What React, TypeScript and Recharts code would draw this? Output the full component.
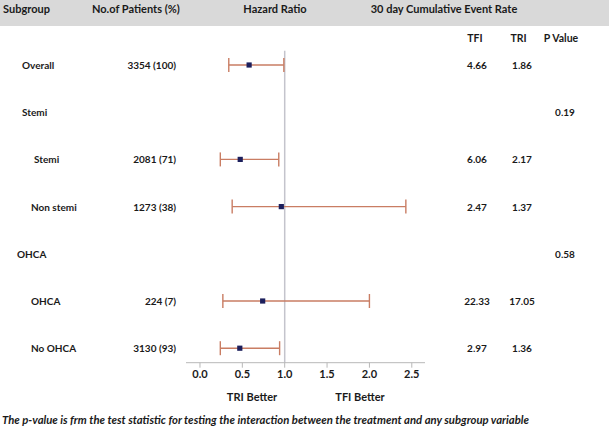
import React from "react";
import {
  ScatterChart,
  Scatter,
  XAxis,
  YAxis,
  ErrorBar,
  ReferenceLine,
} from "recharts";

const subgroups = ["Overall", "Stemi", "Stemi", "Non stemi", "OHCA", "OHCA", "No OHCA"];
const indents = [22, 22, 34, 31, 17, 31, 31];
const patients = ["3354 (100)", "", "2081 (71)", "1273 (38)", "", "224 (7)", "3130 (93)"];
const tfiRates = ["4.66", "", "6.06", "2.47", "", "22.33", "2.97"];
const triRates = ["1.86", "", "2.17", "1.37", "", "17.05", "1.36"];
const pValues = ["", "0.19", "", "", "0.58", "", ""];
const hazard = [0.58, null, 0.475, 0.96, null, 0.74, 0.47];
const ciLow = [0.34, null, 0.24, 0.38, null, 0.27, 0.24];
const ciHigh = [0.99, null, 0.93, 2.43, null, 2.0, 0.94];
const xTicks = [0, 0.5, 1, 1.5, 2, 2.5];
const rowTicks = subgroups.map((_, i) => i);

const FONT = "Lato, 'Open Sans', sans-serif";
const INK = "#1a1a1a";

const pointData = hazard
  .map((hr, i) =>
    hr === null
      ? null
      : {
          row: i,
          x: hr,
          err: [hr - (ciLow[i] as number), (ciHigh[i] as number) - hr],
        }
  )
  .filter(Boolean) as { row: number; x: number; err: number[] }[];

const RowTick = (props: any) => {
  const { y, payload } = props;
  const i = Math.round(payload?.value);
  if (y == null || i < 0 || i >= subgroups.length) return null;
  const common = {
    fontFamily: FONT,
    fontSize: 10,
    fontWeight: 700,
    fill: INK,
    dominantBaseline: "central" as const,
  };
  return (
    <g>
      <text x={indents[i]} y={y} {...common}>
        {subgroups[i]}
      </text>
      {patients[i] && (
        <text x={176} y={y} textAnchor="end" {...common}>
          {patients[i]}
        </text>
      )}
      {tfiRates[i] && (
        <text x={477} y={y} textAnchor="middle" {...common}>
          {tfiRates[i]}
        </text>
      )}
      {triRates[i] && (
        <text x={522} y={y} textAnchor="middle" {...common}>
          {triRates[i]}
        </text>
      )}
      {pValues[i] && (
        <text x={565} y={y} textAnchor="middle" {...common}>
          {pValues[i]}
        </text>
      )}
    </g>
  );
};

const SquarePoint = (props: any) => {
  const { cx, cy } = props;
  if (cx == null || cy == null) return null;
  return <rect x={cx - 2.6} y={cy - 2.6} width={5.2} height={5.2} fill="#1c1f5c" />;
};

const headerStyle: React.CSSProperties = {
  position: "absolute",
  fontFamily: FONT,
  fontSize: 11,
  fontWeight: 700,
  color: INK,
  whiteSpace: "nowrap",
  lineHeight: "12px",
};

export default function App() {
  return (
    <div
      style={{
        position: "absolute",
        left: 0,
        top: 0,
        width: 609,
        height: 429,
        background: "#ffffff",
        overflow: "hidden",
      }}
    >
      <div
        style={{
          position: "absolute",
          left: 0,
          top: 0,
          width: 609,
          height: 26,
          background: "#d9d9d9",
        }}
      />
      <div style={{ ...headerStyle, left: 3, top: 3 }}>Subgroup</div>
      <div style={{ ...headerStyle, left: 92, top: 3 }}>No.of Patients (%)</div>
      <div style={{ ...headerStyle, left: 275, top: 3, transform: "translateX(-50%)" }}>
        Hazard Ratio
      </div>
      <div style={{ ...headerStyle, left: 444, top: 3, transform: "translateX(-50%)" }}>
        30 day Cumulative Event Rate
      </div>
      <div style={{ ...headerStyle, fontSize: 10.5, left: 475, top: 32, transform: "translateX(-50%)" }}>TFI</div>
      <div style={{ ...headerStyle, fontSize: 10.5, left: 518.5, top: 32, transform: "translateX(-50%)" }}>TRI</div>
      <div style={{ ...headerStyle, fontSize: 10.5, left: 561, top: 32, transform: "translateX(-50%)" }}>P Value</div>

      <div style={{ position: "absolute", left: 0, top: 0 }}>
        <ScatterChart
          width={609}
          height={429}
          margin={{ top: 50.7, right: 184, bottom: 36.3, left: 185 }}
        >
          <XAxis
            type="number"
            dataKey="x"
            domain={[-0.165, 2.656]}
            ticks={xTicks}
            tickFormatter={(v: number) => v.toFixed(1)}
            allowDataOverflow
            height={30}
            stroke="#b8b8b8"
            tickSize={5}
            tick={{ fill: INK, fontFamily: FONT, fontSize: 11, fontWeight: 700 }}
          />
          <YAxis
            type="number"
            dataKey="row"
            domain={[-0.303, 6.307]}
            reversed
            allowDataOverflow
            ticks={rowTicks}
            interval={0}
            width={1}
            axisLine={false}
            tickLine={false}
            tick={<RowTick />}
          />
          <ReferenceLine x={1} stroke="#c4c4cc" strokeWidth={1.5} />
          <Scatter data={pointData} shape={<SquarePoint />} isAnimationActive={false}>
            <ErrorBar dataKey="err" direction="x" width={7} stroke="#c97d63" strokeWidth={1.4} />
          </Scatter>
        </ScatterChart>
      </div>

      <div style={{ ...headerStyle, left: 252, top: 391, transform: "translateX(-50%)" }}>
        TRI Better
      </div>
      <div style={{ ...headerStyle, left: 360, top: 391, transform: "translateX(-50%)" }}>
        TFI Better
      </div>
      <div
        style={{
          ...headerStyle,
          left: 2,
          top: 414,
          fontStyle: "italic",
          fontSize: 11.3,
        }}
      >
        The p-value is frm the test statistic for testing the interaction between the treatment and any subgroup variable
      </div>
    </div>
  );
}
